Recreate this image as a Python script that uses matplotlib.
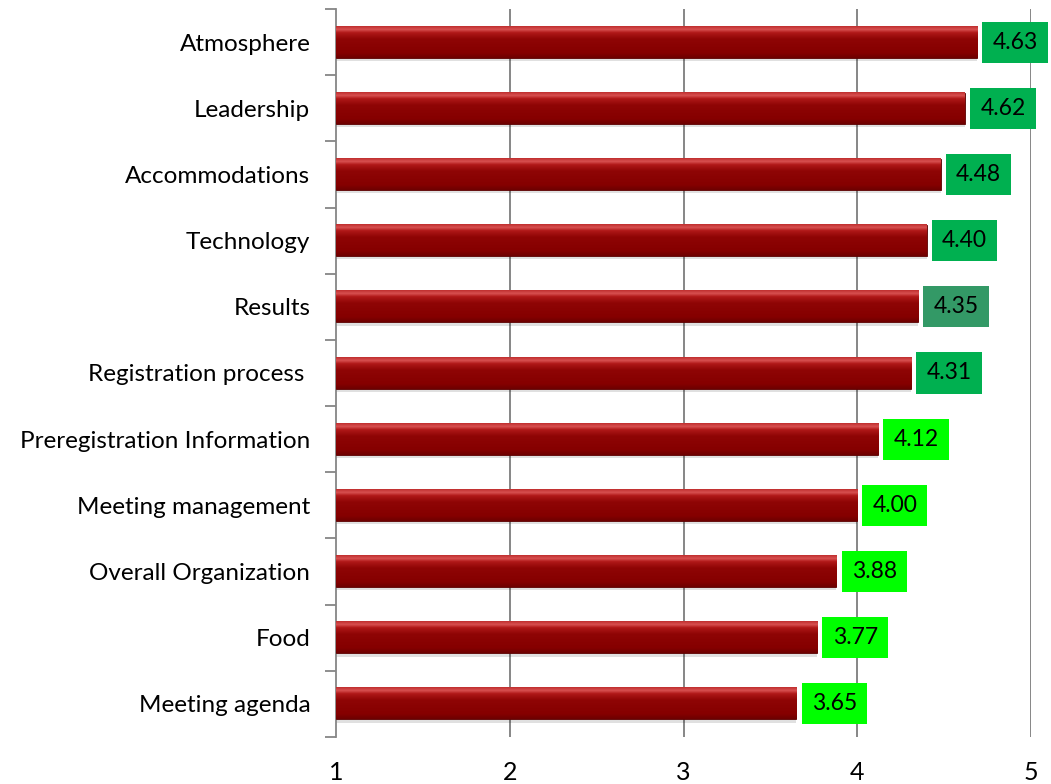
import numpy as np
import matplotlib
matplotlib.use("Agg")
import matplotlib.pyplot as plt
from matplotlib.colors import LinearSegmentedColormap

categories = ["Atmosphere", "Leadership", "Accommodations", "Technology", "Results",
              "Registration process ", "Preregistration Information", "Meeting management",
              "Overall Organization", "Food", "Meeting agenda"]
bar_values = [4.69, 4.62, 4.48, 4.40, 4.35, 4.31, 4.12, 4.00, 3.88, 3.77, 3.65]
value_labels = ["4.63", "4.62", "4.48", "4.40", "4.35", "4.31", "4.12", "4.00", "3.88", "3.77", "3.65"]
label_colors = ["#00B050", "#00B050", "#00B050", "#00B050", "#339966", "#00B050",
                "#00FF00", "#00FF00", "#00FF00", "#00FF00", "#00FF00"]
x_ticks = [1, 2, 3, 4, 5]

plt.rcParams['font.family'] = ['Lato', 'DejaVu Sans']

fig = plt.figure(figsize=(10.51, 7.84), dpi=100)
ax = fig.add_axes([336/1051, 47/784, (1031-336)/1051, (737-9)/784])

n = len(categories)
y = np.arange(n)
h = 0.47

grad = LinearSegmentedColormap.from_list(
    "barg", [(0.0, "#6e0000"), (0.15, "#850000"), (0.6, "#8f0505"),
             (0.8, "#b01818"), (0.9, "#d85050"), (1.0, "#c03030")])
gvals = np.linspace(0, 1, 64).reshape(-1, 1)

for yi, v in zip(y, bar_values):
    ax.barh(yi + 0.05, v - 1, left=1, height=h, color="#000000", alpha=0.12, zorder=2, linewidth=0)
    ax.barh(yi, v - 1, left=1, height=h, color="#8b0000", edgecolor="#5a0000",
            linewidth=0.6, zorder=3)
    ax.imshow(gvals, cmap=grad, aspect="auto", origin="lower",
              extent=(1, v, yi + h / 2, yi - h / 2), zorder=3.5)

for yi, v, lab, c in zip(y, bar_values, value_labels, label_colors):
    ax.annotate(lab, xy=(v, yi), xytext=(11, 0), textcoords="offset points",
                ha="left", va="center", fontsize=16.5, color="black",
                bbox=dict(boxstyle="square,pad=0.44", fc=c, ec="none"), zorder=5)

ax.set_xlim(1, 5)
ax.set_ylim(n - 0.5, -0.5)
ax.set_xticks(x_ticks)
ax.set_xticklabels([str(t) for t in x_ticks], fontsize=18)
ax.tick_params(axis="x", length=0, pad=17)
ax.set_yticks(y)
ax.set_yticklabels(categories, fontsize=17.5)
ax.tick_params(axis="y", which="major", length=0, pad=18.5)
ax.set_yticks(np.arange(-0.5, n, 1), minor=True)
ax.tick_params(axis="y", which="minor", length=8, width=1.3, color="#868686", direction="out")

for t in x_ticks[1:]:
    ax.axvline(t, color="#868686", lw=1.4, zorder=1)

for s in ["top", "right", "bottom"]:
    ax.spines[s].set_visible(False)
ax.spines["left"].set_color("#868686")
ax.spines["left"].set_linewidth(1.3)

fig.savefig("out.png", dpi=100)
